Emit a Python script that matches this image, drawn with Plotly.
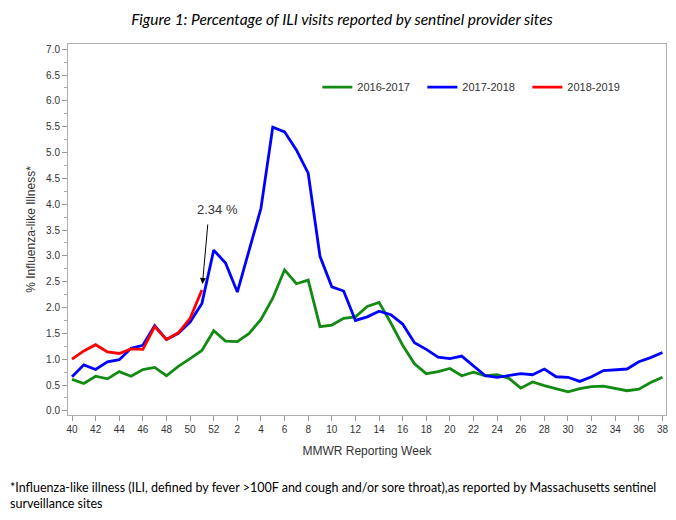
import plotly.graph_objects as go

weeks = [str(w) for w in list(range(40, 53)) + list(range(1, 39))]

s2016 = [0.61, 0.53, 0.67, 0.62, 0.76, 0.67, 0.80, 0.84, 0.68, 0.86,
         1.01, 1.17, 1.55, 1.35, 1.34, 1.50, 1.77, 2.18, 2.73, 2.46,
         2.53, 1.63, 1.66, 1.79, 1.82, 2.02, 2.10, 1.70, 1.27, 0.91,
         0.72, 0.76, 0.82, 0.68, 0.75, 0.68, 0.70, 0.63, 0.44, 0.56,
         0.49, 0.43, 0.37, 0.43, 0.47, 0.48, 0.43, 0.39, 0.42, 0.55, 0.65]

s2017 = [0.66, 0.89, 0.80, 0.95, 0.99, 1.21, 1.27, 1.65, 1.38, 1.50,
         1.72, 2.08, 3.11, 2.86, 2.30, 3.11, 3.92, 5.49, 5.40, 5.05,
         4.60, 2.99, 2.40, 2.32, 1.75, 1.82, 1.93, 1.86, 1.68, 1.32,
         1.19, 1.04, 1.01, 1.06, 0.87, 0.68, 0.65, 0.69, 0.72, 0.70,
         0.81, 0.66, 0.65, 0.57, 0.66, 0.78, 0.79, 0.81, 0.95, 1.03, 1.13]

s2018 = [1.00, 1.16, 1.28, 1.14, 1.11, 1.20, 1.19, 1.63, 1.38, 1.51,
         1.79, 2.34]

tick_weeks = weeks[::2]
y_ticks = [0.0, 0.5, 1.0, 1.5, 2.0, 2.5, 3.0, 3.5, 4.0, 4.5, 5.0, 5.5, 6.0, 6.5, 7.0]

series = [("2016-2017", s2016, "#138a13"),
          ("2017-2018", s2017, "#0000ff"),
          ("2018-2019", s2018, "#ff0000")]

fig = go.Figure()
for name, vals, col in series:
    fig.add_trace(go.Scatter(x=weeks[:len(vals)], y=vals, mode="lines", name=name,
                             line=dict(color=col, width=2.8)))

last_idx = len(s2018) - 1   # category position on the x axis
last_val = s2018[-1]
# arrow
fig.add_annotation(x=last_idx, y=last_val, xref="x", yref="y", text="", showarrow=True,
                   ax=6, ay=-67, standoff=6, arrowhead=2, arrowsize=1.2,
                   arrowwidth=1, arrowcolor="#000000")
# label
fig.add_annotation(x=last_idx, y=last_val, xref="x", yref="y", text=f"{last_val:.2f} %",
                   showarrow=False, xshift=16, yshift=80,
                   font=dict(family="Liberation Sans", size=13, color="#333333"))

axis_font = dict(family="Liberation Sans", size=10, color="#333333")
fig.update_layout(
    width=668, height=512,
    margin=dict(l=60, r=8, t=36, b=105),
    paper_bgcolor="white", plot_bgcolor="white",
    title=dict(text="<i>Figure 1: Percentage of ILI visits reported by sentinel provider sites</i>",
               x=0.5, xanchor="center", y=0.5 + 0.5 - 12 / 512, yanchor="middle",
               font=dict(family="Lato", size=15.5, color="#000000")),
    showlegend=True,
    legend=dict(orientation="h", x=0.417, xanchor="left", y=0.884, yanchor="middle",
                font=dict(family="Liberation Sans", size=11, color="#333333"),
                bgcolor="rgba(0,0,0,0)", entrywidth=60, entrywidthmode="pixels",
                traceorder="normal"),
    xaxis=dict(type="category", categoryorder="array", categoryarray=weeks,
               range=[-0.34, 50.3], tickmode="array", tickvals=tick_weeks, ticktext=tick_weeks,
               ticks="outside", ticklen=5, tickcolor="#999999", tickfont=axis_font,
               showline=True, linecolor="#b0b0b0", linewidth=1, mirror=True,
               showgrid=False, zeroline=False,
               title=dict(text="MMWR Reporting Week", standoff=12,
                          font=dict(family="Liberation Sans", size=12, color="#333333"))),
    yaxis=dict(range=[-0.08, 7.10], tickmode="array", tickvals=y_ticks,
               ticktext=[f"{v:.1f}" for v in y_ticks],
               ticks="outside", ticklen=5, tickcolor="#999999", tickfont=axis_font,
               minor=dict(dtick=0.25, tick0=0, ticks="outside", ticklen=3, tickcolor="#aaaaaa", showgrid=False),
               showline=True, linecolor="#b0b0b0", linewidth=1, mirror=True,
               showgrid=False, zeroline=False,
               title=dict(text="% Influenza-like Illness*", standoff=7,
                          font=dict(family="Liberation Sans", size=12, color="#333333"))),
)

fig.add_annotation(xref="paper", yref="paper", x=-0.1, y=-0.17, xanchor="left", yanchor="top",
                   align="left", showarrow=False,
                   text="*Influenza-like illness (ILI, defined by fever >100F and cough and/or sore throat),as reported by Massachusetts sentinel<br>surveillance sites",
                   font=dict(family="Lato", size=12.5, color="#000000"))

fig.write_html("out.html")
